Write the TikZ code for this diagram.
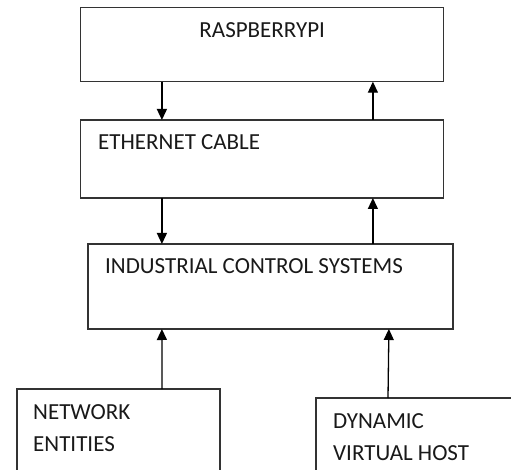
\documentclass[tikz,border=0pt]{standalone}
\usepackage{fontspec}
\setmainfont{Carlito}
\usetikzlibrary{arrows.meta,positioning}

\begin{document}
\begin{tikzpicture}[x=1pt,y=-1pt,
  box/.style={draw=black!80,line width=1.3pt,minimum width=363pt,inner sep=0pt,outer sep=0pt},
  lbl/.style={anchor=base west,inner sep=0pt,align=left,text=black!90,font=\fontsize{23}{32}\selectfont},
  arrow/.style={-{Triangle[length=11pt,width=10pt]},line width=1.3pt}
]
\useasboundingbox (0,0) rectangle (511,470);
\clip (0,0) rectangle (511,470);
\node[box,minimum height=74pt,anchor=north west] (rpi) at (80.7,7.7) {};
\node[box,minimum height=78pt,below=38.3pt of rpi] (eth) {};
\node[box,minimum width=365pt,minimum height=85pt,below=46pt of eth,xshift=8.2pt] (ics) {};
\node[box,minimum width=203pt,minimum height=120pt,anchor=north west] (net) at (17,389) {};
\node[box,minimum width=250pt,minimum height=120pt,anchor=north west] (dvh) at (316,398) {};
\node[lbl,anchor=base] (rpit) at ([yshift=-30.3pt]rpi.north) {RASPBERRYPI};
\node[lbl] (etht) at ([shift={(17.3pt,-30pt)}]eth.north west) {ETHERNET CABLE};
\node[lbl] (icst) at ([shift={(17pt,-29pt)}]ics.north west) {INDUSTRIAL CONTROL SYSTEMS};
% base anchor sits on the last line
\node[lbl] (nett) at ([shift={(16pt,-62pt)}]net.north west) {NETWORK\\ENTITIES};
\node[lbl] (dvht) at ([shift={(17pt,-62pt)}]dvh.north west) {DYNAMIC\\VIRTUAL HOST};
\draw[arrow] ([xshift=-100.3pt]rpi.south)--([xshift=-100.3pt]eth.north);
\draw[arrow] ([xshift=110.7pt]eth.north)--([xshift=110.7pt]rpi.south);
\draw[arrow] ([xshift=-100.3pt]eth.south)--([xshift=-108.5pt]ics.north);
\draw[arrow] ([xshift=102.5pt]ics.north)--([xshift=110.7pt]eth.south);
\draw[arrow] ([xshift=43.5pt]net.north)--([xshift=-108.5pt]ics.south);
\draw[arrow] ([xshift=-53pt]dvh.north)--([xshift=118.5pt]ics.south);
\end{tikzpicture}
\end{document}
